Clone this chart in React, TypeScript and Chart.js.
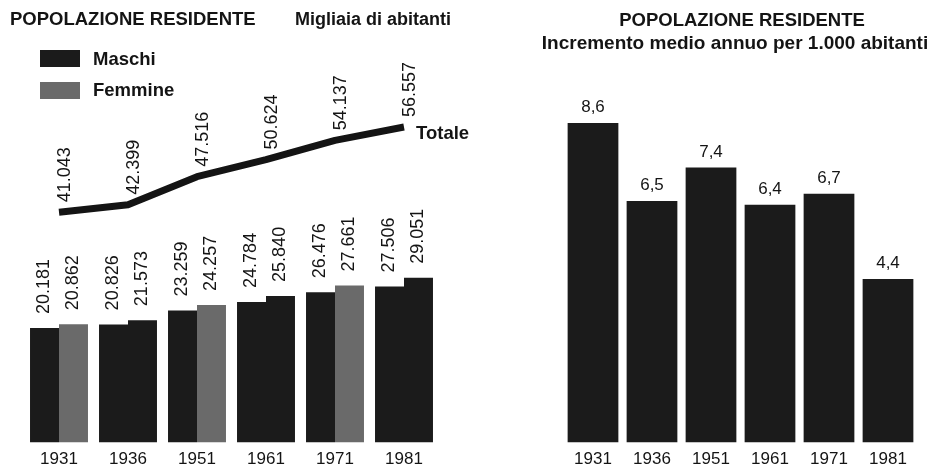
import { useEffect, useRef } from "react";
import { Chart, registerables } from "chart.js";

Chart.register(...registerables);

const FONT = "'Liberation Sans', Arial, Helvetica, sans-serif";
const INK = "#141414";
const BAR_DARK = "#1b1b1b";
const BAR_GREY = "#6a6a6a";

// ---- data ----
const years = ["1931", "1936", "1951", "1961", "1971", "1981"];
const maschi = [20181, 20826, 23259, 24784, 26476, 27506];
const femmine = [20862, 21573, 24257, 25840, 27661, 29051];
const totale = [41043, 42399, 47516, 50624, 54137, 56557];
const incremento = [8.6, 6.5, 7.4, 6.4, 6.7, 4.4];
// print tone of the "Femmine" bars as reproduced
const femmineTone = [BAR_GREY, BAR_DARK, BAR_GREY, BAR_DARK, BAR_GREY, BAR_DARK];

const leftTitle = "POPOLAZIONE RESIDENTE";
const leftUnit = "Migliaia di abitanti";
const rightTitle = "POPOLAZIONE RESIDENTE";
const rightSubtitle = "Incremento medio annuo per 1.000 abitanti";
const totaleLabel = "Totale";

function fmtThousands(v: number): string {
  const hi = Math.floor(v / 1000);
  const lo = String(v % 1000).padStart(3, "0");
  return hi + "." + lo;
}
function fmtComma(v: number): string {
  return v.toFixed(1).replace(".", ",");
}

function drawRotated(ctx: CanvasRenderingContext2D, text: string, x: number, y: number) {
  ctx.save();
  ctx.translate(x, y);
  ctx.rotate(-Math.PI / 2);
  ctx.textAlign = "left";
  ctx.textBaseline = "middle";
  ctx.fillText(text, 0, 0);
  ctx.restore();
}

const leftDecor = {
  id: "leftDecor",
  afterDatasetsDraw(chart: any) {
    const ctx: CanvasRenderingContext2D = chart.ctx;
    ctx.save();
    ctx.fillStyle = INK;
    ctx.textAlign = "left";
    ctx.textBaseline = "alphabetic";
    ctx.font = `bold 18.5px ${FONT}`;
    ctx.fillText(leftTitle, 10, 25);
    ctx.font = `bold 18px ${FONT}`;
    ctx.fillText(leftUnit, 295, 25);

    // legend
    const ds = chart.data.datasets;
    ctx.fillStyle = BAR_DARK;
    ctx.fillRect(40, 50, 40, 17);
    ctx.fillStyle = BAR_GREY;
    ctx.fillRect(40, 82, 40, 17);
    ctx.fillStyle = INK;
    ctx.font = `bold 18.5px ${FONT}`;
    ctx.fillText(ds[0].label, 93, 65);
    ctx.fillText(ds[1].label, 93, 96);

    // rotated bar labels
    ctx.font = `18px ${FONT}`;
    [0, 1].forEach((di) => {
      const meta = chart.getDatasetMeta(di);
      const vals = ds[di].data as number[];
      meta.data.forEach((el: any, i: number) => {
        drawRotated(ctx, fmtThousands(vals[i]), el.x, el.y - 14);
      });
    });

    // line labels
    const lm = chart.getDatasetMeta(2);
    const lv = ds[2].data as number[];
    lm.data.forEach((pt: any, i: number) => {
      drawRotated(ctx, fmtThousands(lv[i]), pt.x + 6, pt.y - 10);
    });
    const last = lm.data[lm.data.length - 1];
    ctx.font = `bold 18.5px ${FONT}`;
    ctx.textBaseline = "middle";
    ctx.fillText(totaleLabel, last.x + 12, last.y + 7);
    ctx.restore();
  },
};

const rightDecor = {
  id: "rightDecor",
  afterDatasetsDraw(chart: any) {
    const ctx: CanvasRenderingContext2D = chart.ctx;
    ctx.save();
    ctx.fillStyle = INK;
    ctx.textAlign = "center";
    ctx.textBaseline = "alphabetic";
    ctx.font = `bold 18.5px ${FONT}`;
    ctx.fillText(rightTitle, 272, 26);
    ctx.font = `bold 19px ${FONT}`;
    ctx.fillText(rightSubtitle, 265, 49);

    ctx.font = `17px ${FONT}`;
    const meta = chart.getDatasetMeta(0);
    const vals = chart.data.datasets[0].data as number[];
    meta.data.forEach((el: any, i: number) => {
      ctx.fillText(fmtComma(vals[i]), el.x, el.y - 11);
    });
    ctx.restore();
  },
};

const xAxis = {
  grid: { display: false, drawTicks: false },
  border: { display: false },
  ticks: {
    color: INK,
    padding: 6.4,
    font: { size: 17, family: FONT },
    maxRotation: 0,
    autoSkip: false,
  },
};

export default function App() {
  const leftRef = useRef<HTMLCanvasElement | null>(null);
  const rightRef = useRef<HTMLCanvasElement | null>(null);

  useEffect(() => {
    Chart.defaults.font.family = FONT;
    const left = new Chart(leftRef.current!, {
      type: "bar",
      data: {
        labels: years,
        datasets: [
          {
            label: "Maschi",
            data: maschi,
            backgroundColor: BAR_DARK,
            barPercentage: 1.0,
            categoryPercentage: 0.84,
            yAxisID: "y",
            order: 2,
          },
          {
            label: "Femmine",
            data: femmine,
            backgroundColor: femmineTone,
            barPercentage: 1.0,
            categoryPercentage: 0.84,
            yAxisID: "y",
            order: 2,
          },
          {
            type: "line",
            label: "Totale",
            data: totale,
            borderColor: INK,
            borderWidth: 7,
            borderCapStyle: "butt",
            borderJoinStyle: "round",
            pointRadius: 0,
            tension: 0,
            fill: false,
            yAxisID: "y2",
            order: 1,
          } as any,
        ],
      },
      options: {
        responsive: false,
        animation: false,
        layout: { padding: { top: 102, left: 24.5, right: 31.5, bottom: -5.8 } },
        plugins: { legend: { display: false }, tooltip: { enabled: false }, title: { display: false } },
        scales: {
          x: xAxis as any,
          y: { display: false, min: 0, max: 60000 },
          y2: { display: false, min: -930, max: 61120 },
        },
      },
      plugins: [leftDecor],
    });

    const right = new Chart(rightRef.current!, {
      type: "bar",
      data: {
        labels: years,
        datasets: [
          {
            label: "Incremento",
            data: incremento,
            backgroundColor: BAR_DARK,
            barPercentage: 0.86,
            categoryPercentage: 1.0,
          },
        ],
      },
      options: {
        responsive: false,
        animation: false,
        layout: { padding: { top: 71, left: 93.5, right: 13.5, bottom: -5.8 } },
        plugins: { legend: { display: false }, tooltip: { enabled: false }, title: { display: false } },
        scales: {
          x: xAxis as any,
          y: { display: false, min: 0, max: 10 },
        },
      },
      plugins: [rightDecor],
    });

    return () => {
      left.destroy();
      right.destroy();
    };
  }, []);

  return (
    <div style={{ position: "absolute", left: 0, top: 0, width: 931, height: 470, background: "#fff", overflow: "hidden" }}>
      <canvas ref={leftRef} width={470} height={470} style={{ position: "absolute", left: 0, top: 0 }} />
      <canvas ref={rightRef} width={461} height={470} style={{ position: "absolute", left: 470, top: 0 }} />
    </div>
  );
}
